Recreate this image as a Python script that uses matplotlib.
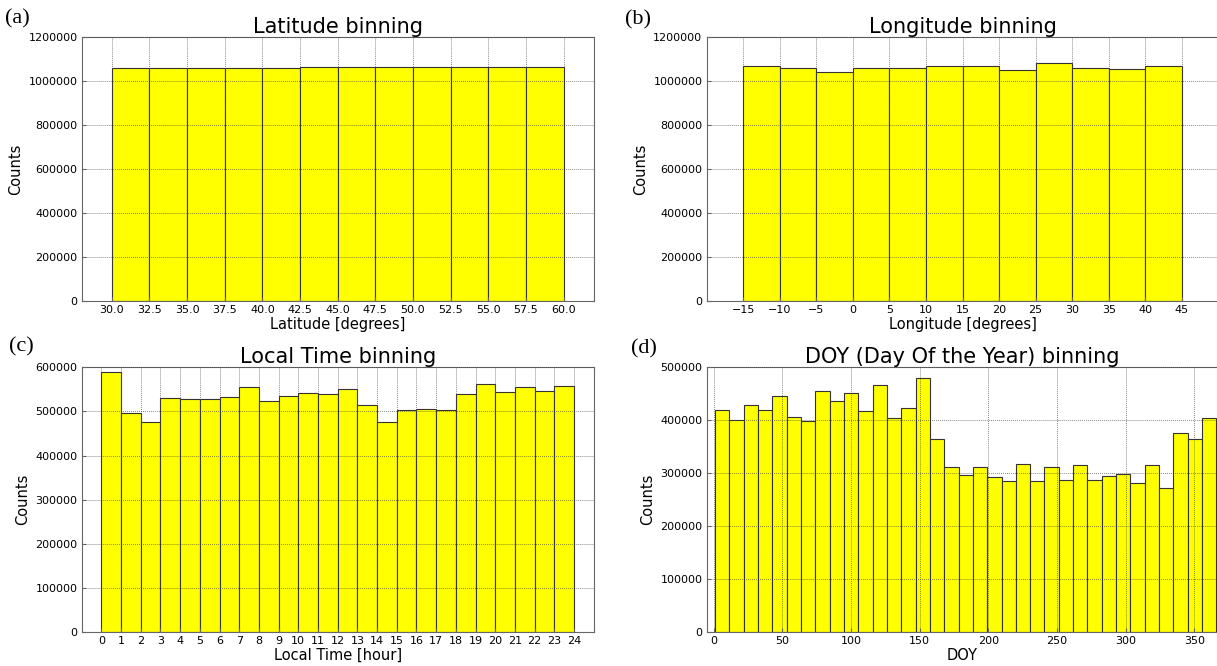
import numpy as np
import matplotlib
matplotlib.use('Agg')
import matplotlib.pyplot as plt
from matplotlib.ticker import FormatStrFormatter

# bin edges
lat_edges = np.arange(30.0, 60.1, 2.5)
lon_edges = np.arange(-15, 46, 5)
lt_edges = np.arange(0, 25, 1)
doy_edges = np.linspace(1, 366, 36)

# counts per bin
lat_counts = [1057000, 1058000, 1058000, 1059000, 1060000, 1061000,
              1061000, 1061000, 1061000, 1061000, 1061000, 1061000]
lon_counts = [1068000, 1060000, 1038000, 1059000, 1056000, 1065000,
              1065000, 1048000, 1081000, 1060000, 1053000, 1068000]
lt_counts = [590000, 497000, 477000, 531000, 528000, 529000, 533000, 555000,
             523000, 536000, 541000, 539000, 551000, 515000, 475000, 503000,
             505000, 503000, 539000, 562000, 543000, 555000, 546000, 557000]
doy_counts = [419000, 400000, 429000, 419000, 445000, 407000, 398000,
              455000, 436000, 451000, 418000, 467000, 405000, 424000,
              479000, 364000, 312000, 296000, 311000, 292000, 286000,
              318000, 285000, 312000, 288000, 315000, 288000, 294000,
              298000, 281000, 315000, 272000, 376000, 365000, 404000]

lat_ticks = lat_edges
lon_ticks = lon_edges
lt_ticks = lt_edges
doy_ticks = np.arange(0, 351, 50)

plt.rcParams['font.family'] = 'DejaVu Sans'

fig = plt.figure(figsize=(12.17, 6.66), dpi=100)
fig.patch.set_facecolor('white')

W = 1217.0
H = 666.0


def make_ax(left, top, right, bottom):
    return fig.add_axes([left / W, 1 - bottom / H, (right - left) / W, (bottom - top) / H])


def draw_hist(ax, edges, counts, title, xlabel, xlim, ylim, yticks, xticks, fmt=None):
    ax.bar(edges[:-1], counts, width=np.diff(edges), align='edge',
           color='#ffff00', edgecolor='0.2', linewidth=0.8)
    ax.set_xlim(*xlim)
    ax.set_ylim(*ylim)
    ax.set_yticks(yticks)
    ax.yaxis.set_major_formatter(FormatStrFormatter('%d'))
    ax.set_xticks(xticks)
    if fmt is not None:
        ax.set_xticklabels([fmt % t for t in xticks])
    ax.set_title(title, fontsize=15, pad=2)
    ax.set_xlabel(xlabel, fontsize=10.5, labelpad=1)
    ax.set_ylabel('Counts', fontsize=10.5)
    ax.tick_params(labelsize=8, direction='in', length=3, pad=3, color='0.4')
    ax.grid(True, linestyle=':', color='0.25', linewidth=0.55)
    ax.set_axisbelow(False)
    for s in ax.spines.values():
        s.set_color('0.4')
    return ax


ax_a = make_ax(81.7, 36.7, 593.7, 301.3)
draw_hist(ax_a, lat_edges, lat_counts, 'Latitude binning', 'Latitude [degrees]',
          (28, 62), (0, 1200000), np.arange(0, 1200001, 200000), lat_ticks, '%.1f')

ax_b = make_ax(706.5, 36.7, 1218.5, 301.3)
draw_hist(ax_b, lon_edges, lon_counts, 'Longitude binning', 'Longitude [degrees]',
          (-20, 50), (0, 1200000), np.arange(0, 1200001, 200000), lon_ticks)

ax_c = make_ax(81.7, 367.3, 593.7, 632.0)
draw_hist(ax_c, lt_edges, lt_counts, 'Local Time binning', 'Local Time [hour]',
          (-1, 25), (0, 600000), np.arange(0, 600001, 100000), lt_ticks)

ax_d = make_ax(706.5, 367.3, 1218.5, 632.0)
draw_hist(ax_d, doy_edges, doy_counts, 'DOY (Day Of the Year) binning', 'DOY',
          (-5.3, 367.6), (0, 500000), np.arange(0, 500001, 100000), doy_ticks)

# panel letters
letters = [('(a)', 5, 19), ('(b)', 625, 20), ('(c)', 9, 347), ('(d)', 631, 349)]
for txt, x, y in letters:
    fig.text(x / W, 1 - y / H, txt, fontsize=16, family='Liberation Serif',
             ha='left', va='center')

fig.savefig('out.png', dpi=100, facecolor='white')
